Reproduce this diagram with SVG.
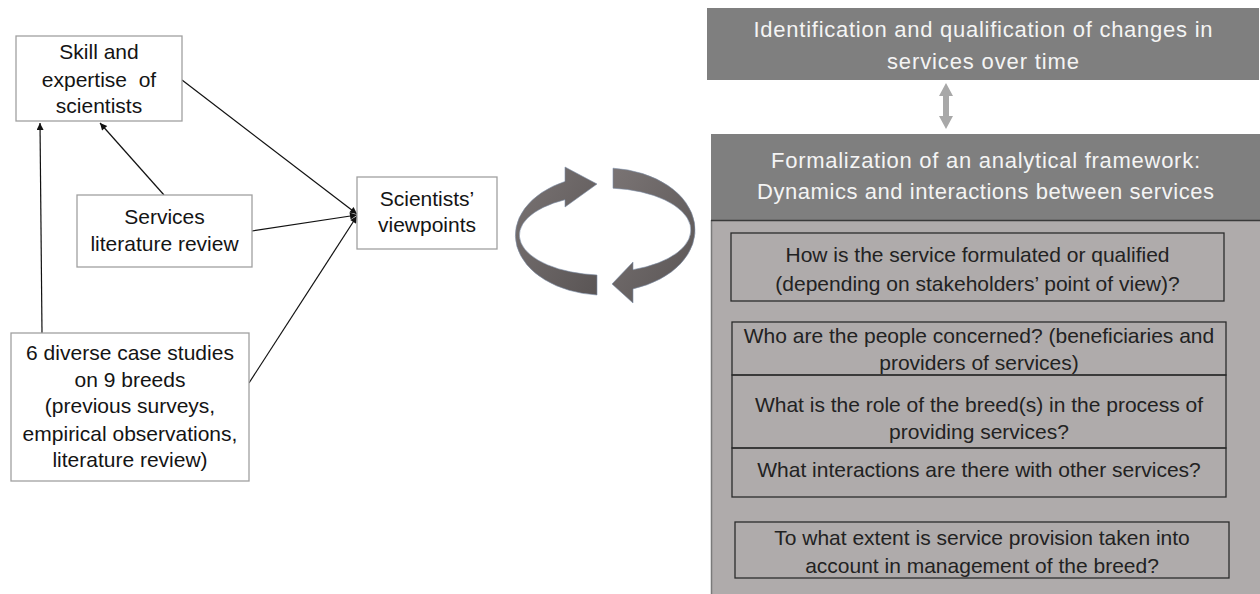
<svg xmlns="http://www.w3.org/2000/svg" width="1260" height="594" viewBox="0 0 1260 594">
<defs>
<style>
.t{font-family:"Liberation Sans",Arial,sans-serif;font-size:21px;fill:#141414;text-anchor:middle;white-space:pre}
.h{font-family:"Liberation Sans",Arial,sans-serif;font-size:22px;fill:#f4f4f4;text-anchor:middle}
.b{font-family:"Liberation Sans",Arial,sans-serif;font-size:21px;fill:#222;text-anchor:middle;white-space:pre}
.wb{fill:#fff;stroke:#a0a0a0;stroke-width:1.3}
.qb{fill:none;stroke:#2b2b2b;stroke-width:1.3}
.c{stroke:#111;stroke-width:1.2;fill:none;marker-end:url(#ah)}
</style>
<marker id="ah" viewBox="0 0 10 10" refX="10" refY="5" markerWidth="9" markerHeight="7" markerUnits="userSpaceOnUse" orient="auto">
<path d="M0,0 L10,5 L0,10 Z" fill="#111"/>
</marker>
<linearGradient id="cg" x1="0" y1="0" x2="1" y2="1">
<stop offset="0" stop-color="#7a7474"/>
<stop offset="1" stop-color="#5a5555"/>
</linearGradient>
</defs>

<g id="connectors">
<line class="c" x1="42" y1="333" x2="40" y2="123"/>
<line class="c" x1="164" y1="195" x2="100" y2="123"/>
<line class="c" x1="182" y1="80" x2="357" y2="214"/>
<line class="c" x1="252" y1="231" x2="357" y2="215"/>
<line class="c" x1="249" y1="383" x2="357" y2="216"/>
</g>

<g id="skill">
<rect class="wb" x="16" y="36" width="166" height="85"/>
<text class="t" x="99" y="59">Skill and</text>
<text class="t" x="99" y="86.5">expertise  of</text>
<text class="t" x="99" y="113">scientists</text>
</g>

<g id="services">
<rect class="wb" x="77" y="195" width="175" height="72"/>
<text class="t" x="164.5" y="224">Services</text>
<text class="t" x="164.5" y="251">literature review</text>
</g>

<g id="viewpoints">
<rect class="wb" x="357" y="177" width="140" height="72"/>
<text class="t" x="427" y="206">Scientists’</text>
<text class="t" x="427" y="232">viewpoints</text>
</g>

<g id="cases">
<rect class="wb" x="11" y="333" width="238" height="148"/>
<text class="t" x="130" y="360">6 diverse case studies</text>
<text class="t" x="130" y="387">on 9 breeds</text>
<text class="t" x="130" y="413">(previous surveys,</text>
<text class="t" x="130" y="441">empirical observations,</text>
<text class="t" x="130" y="467">literature review)</text>
</g>

<g id="cycle">
<path d="M597,295 A89,60 0 0 1 565,181.4 L565,167 L597,184 L565,207 L565,199.7 A85,40 0 0 0 597,275 Z" fill="url(#cg)" stroke="#7d8fa8" stroke-width="0.6"/>
<path d="M613,168.2 A90,62 0 0 1 633,288.9 L633,303 L612,284 L633,262 L633,269.7 A86,42 0 0 0 613,188.2 Z" fill="url(#cg)" stroke="#7d8fa8" stroke-width="0.6"/>
</g>

<g id="identification">
<rect x="707" y="8" width="552" height="72" fill="#7f7f7f"/>
<text class="h" x="983" y="37" textLength="459" lengthAdjust="spacing">Identification and qualification of changes in</text>
<text class="h" x="983" y="69" textLength="192" lengthAdjust="spacing">services over time</text>
</g>

<g id="double-arrow">
<polygon points="946,83 953,96 949,96 949,116 953,116 946,129 939,116 943,116 943,96 939,96" fill="#a8a8a8"/>
</g>

<g id="framework">
<rect x="711" y="134" width="549" height="86" fill="#7f7f7f"/>
<rect x="711" y="220" width="549" height="374" fill="#afabab"/>
<line x1="711.5" y1="220" x2="711.5" y2="594" stroke="#7a7a7a" stroke-width="1.5"/>
<line x1="711" y1="220.5" x2="1260" y2="220.5" stroke="#3a3a3a" stroke-width="1.5"/>
<text class="h" x="985.5" y="168" textLength="429" lengthAdjust="spacing">Formalization of an analytical framework:</text>
<text class="h" x="985.5" y="199" textLength="457" lengthAdjust="spacing">Dynamics and interactions between services</text>
</g>

<g id="q-how">
<rect class="qb" x="731" y="233" width="493" height="68"/>
<text class="b" x="977.5" y="262">How is the service formulated or qualified</text>
<text class="b" x="977.5" y="291">(depending on stakeholders’ point of view)?</text>
</g>

<g id="q-who">
<rect class="qb" x="732" y="322" width="494" height="53"/>
<text class="b" x="979" y="343">Who are the people concerned? (beneficiaries and</text>
<text class="b" x="979" y="370">providers of services)</text>
</g>

<g id="q-role">
<rect class="qb" x="732" y="375" width="494" height="73"/>
<text class="b" x="979" y="412">What is the role of the breed(s) in the process of</text>
<text class="b" x="979" y="439">providing services?</text>
</g>

<g id="q-interactions">
<rect class="qb" x="732" y="448" width="494" height="49"/>
<text class="b" x="979" y="477">What interactions are there with other services?</text>
</g>

<g id="q-extent">
<rect class="qb" x="735" y="522" width="494" height="56"/>
<text class="b" x="982" y="545">To what extent is service provision taken into</text>
<text class="b" x="982" y="573">account in management of the breed?</text>
</g>
</svg>
